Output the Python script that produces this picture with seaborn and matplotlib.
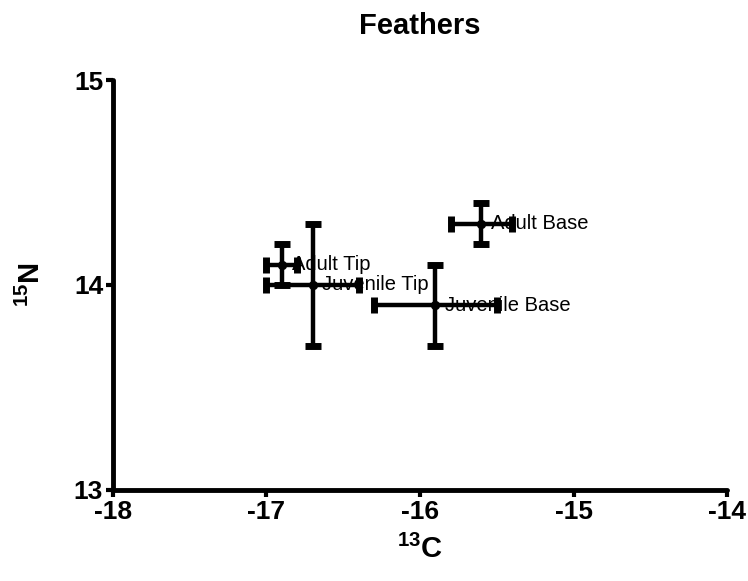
import matplotlib
matplotlib.use("Agg")
import matplotlib.pyplot as plt
import seaborn as sns
import pandas as pd

# Feather isotope means with error
groups = ["Adult Tip", "Juvenile Tip", "Adult Base", "Juvenile Base"]
carbon = [-16.9, -16.7, -15.6, -15.9]
nitrogen = [14.1, 14.0, 14.3, 13.9]
carbon_err = [0.1, 0.3, 0.2, 0.4]
nitrogen_err = [0.1, 0.3, 0.1, 0.2]


def plot_feathers(df):
    sns.set_style("ticks")
    plt.rcParams["font.family"] = ["Liberation Sans", "DejaVu Sans"]
    plt.rcParams["axes.unicode_minus"] = False
    plt.rcParams["mathtext.fontset"] = "custom"
    plt.rcParams["mathtext.rm"] = "Liberation Sans"
    plt.rcParams["mathtext.bf"] = "Liberation Sans:bold"
    for key in ["text.color", "axes.labelcolor", "xtick.color", "ytick.color",
                "axes.edgecolor"]:
        plt.rcParams[key] = "black"

    fig = plt.figure(figsize=(7.48, 5.81), dpi=100)
    ax = fig.add_axes([0.151, 0.157, 0.821, 0.705])

    ax.errorbar(df["C"], df["N"], xerr=df["C_err"], yerr=df["N_err"],
                fmt="none", ecolor="black", elinewidth=3.2, capsize=5.5,
                capthick=5, solid_capstyle="round", dash_capstyle="round")
    sns.scatterplot(data=df, x="C", y="N", ax=ax, color="black", s=45,
                    edgecolor="black", linewidth=0, zorder=3)

    for _, row in df.iterrows():
        ax.annotate(row["group"], (row["C"], row["N"]), xytext=(7, 0),
                    textcoords="offset points", va="center", ha="left",
                    fontsize=14.5, color="black")

    ax.set_xlim(-18, -14)
    ax.set_ylim(13, 15)
    ax.set_xticks([-18, -17, -16, -15, -14])
    ax.set_yticks([13, 14, 15])

    for side in ["top", "right"]:
        ax.spines[side].set_visible(False)
    for side in ["left", "bottom"]:
        ax.spines[side].set_linewidth(3.5)
        ax.spines[side].set_capstyle("round")
    ax.tick_params(width=3, length=5, labelsize=19, pad=2, colors="black")
    for lab in ax.get_xticklabels() + ax.get_yticklabels():
        lab.set_fontweight("bold")

    ax.set_title("Feathers", fontsize=21, fontweight="bold", pad=33)
    ax.set_xlabel("$\\mathbf{^{13}C}$", fontsize=21, labelpad=8)
    ax.set_ylabel("$\\mathbf{^{15}N}$", fontsize=21, labelpad=20)

    fig.savefig("out.png", dpi=100)


def main():
    df = pd.DataFrame({"group": groups, "C": carbon, "N": nitrogen,
                       "C_err": carbon_err, "N_err": nitrogen_err})
    plot_feathers(df)


if __name__ == "__main__":
    main()
